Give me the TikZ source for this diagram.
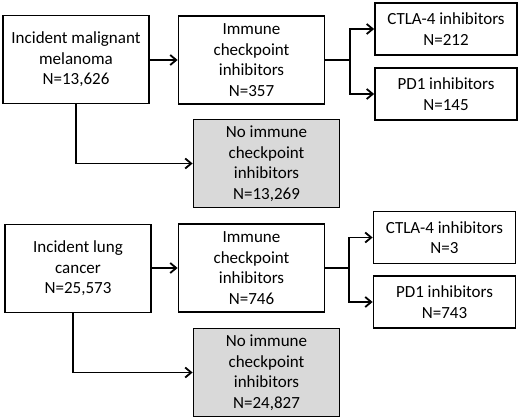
\documentclass[tikz,border=0pt]{standalone}
\usepackage{fontspec}
\setmainfont{Carlito}
\usetikzlibrary{arrows.meta}
\definecolor{boxgray}{HTML}{D9D9D9}
\begin{document}
\begin{tikzpicture}[x=1pt,y=-1pt,
  box/.style={draw=black, line width=1.8pt, fill=white, inner sep=0pt, align=center,
    font=\fontsize{17}{20.5}\selectfont},
  bigbox/.style={box, minimum width=146pt, minimum height=88pt},
  smallbox/.style={box, minimum width=142pt, minimum height=52pt},
  graybox/.style={bigbox, fill=boxgray},
  conn/.style={line width=1.8pt, -{Straight Barb[length=6pt,width=10pt,line width=1.8pt]}},
  plain/.style={line width=1.8pt}]
\useasboundingbox (0,0) rectangle (520,420);
% top block
\node[bigbox] (A) at (76,59.5) {Incident malignant\\melanoma\\N=13,626};
\node[bigbox] (B) at (251.5,60) {Immune\\checkpoint\\inhibitors\\N=357};
\node[graybox] (C) at (266.5,163.5) {No immune\\checkpoint\\inhibitors\\N=13,269};
\node[smallbox] (D) at (446,29) {CTLA-4 inhibitors\\N=212};
\node[smallbox] (E) at (446,94) {PD1 inhibitors\\N=145};
\coordinate (f1) at (350,60);
\draw[conn] (A.east |- B.west) -- (B.west);
\draw[conn] (A.south) |- (C.west);
\draw[plain] (B.east) -- (f1);
\draw[conn] (f1) |- (D.west);
\draw[conn] (f1) |- (E.west);
% bottom block
\node[bigbox] (F) at (78,268.5) {Incident lung\\cancer\\N=25,573};
\node[bigbox] (G) at (251.5,268) {Immune\\checkpoint\\inhibitors\\N=746};
\node[graybox] (H) at (266.5,372.5) {No immune\\checkpoint\\inhibitors\\N=24,827};
\node[smallbox] (I) at (444.5,237.5) {CTLA-4 inhibitors\\N=3};
\node[smallbox] (J) at (444.5,302) {PD1 inhibitors\\N=743};
\coordinate (f2) at (349,268);
\coordinate (fs) at ([xshift=-5pt]F.south);
\draw[conn] (F.east |- G.west) -- (G.west);
\draw[conn] (fs) |- (H.west);
\draw[plain] (G.east) -- (f2);
\draw[conn] (f2) |- (I.west);
\draw[conn] (f2) |- (J.west);
\end{tikzpicture}
\end{document}
